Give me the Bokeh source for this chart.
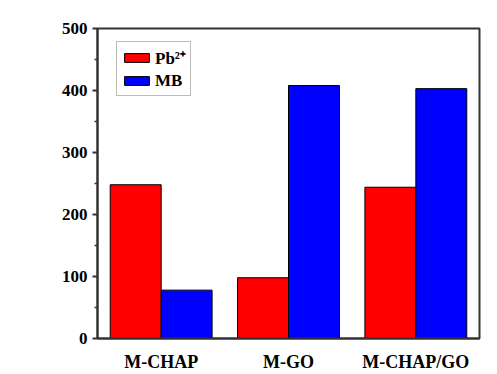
import math
from bokeh.plotting import figure
from bokeh.models import (ColumnDataSource, FactorRange, Range1d, Legend, LegendItem,
                          Label, FixedTicker)
from bokeh.transform import dodge
from bokeh.embed import file_html
from bokeh.resources import INLINE

categories = ["M-CHAP", "M-GO", "M-CHAP/GO"]
pb_values = [248, 98, 244]
mb_values = [78, 408, 403]
series_names = ["Pb\u00b2\u207a", "MB"]
y_ticks = [0, 100, 200, 300, 400, 500]

FONT = "Liberation Serif"
FRAME = "#333333"

source = ColumnDataSource(dict(cat=categories, pb=pb_values, mb=mb_values))

p = figure(width=497, height=374, output_backend="svg", toolbar_location=None,
           x_range=FactorRange(*categories, range_padding=0),
           y_range=Range1d(0, 500),
           min_border_left=97, min_border_right=18, min_border_top=28, min_border_bottom=36)

r1 = p.vbar(x=dodge("cat", -0.2, range=p.x_range), top="pb", width=0.4, source=source,
            fill_color="#FF0000", line_color="black", line_width=1)
r2 = p.vbar(x=dodge("cat", 0.2, range=p.x_range), top="mb", width=0.4, source=source,
            fill_color="#0000FF", line_color="black", line_width=1)

p.xgrid.grid_line_color = None
p.ygrid.grid_line_color = None
p.outline_line_color = FRAME
p.outline_line_width = 2
p.background_fill_color = "white"
p.border_fill_color = "white"

yax = p.yaxis[0]
yax.ticker = FixedTicker(ticks=y_ticks, minor_ticks=[50, 150, 250, 350, 450])
yax.major_tick_in = 0
yax.major_tick_out = 5
yax.minor_tick_in = 0
yax.minor_tick_out = 3
yax.major_tick_line_color = FRAME
yax.minor_tick_line_color = FRAME
yax.major_tick_line_width = 2
yax.minor_tick_line_width = 1.5
yax.axis_line_color = FRAME
yax.axis_line_width = 2
yax.major_label_text_font = FONT
yax.major_label_text_font_style = "bold"
yax.major_label_text_font_size = "17px"
yax.major_label_text_color = "black"
yax.major_label_standoff = 5

xax = p.xaxis[0]
xax.major_tick_in = 0
xax.major_tick_out = 0
xax.minor_tick_in = 0
xax.minor_tick_out = 0
xax.major_tick_line_color = None
xax.minor_tick_line_color = None
xax.axis_line_color = FRAME
xax.axis_line_width = 2
xax.major_label_text_font = FONT
xax.major_label_text_font_style = "bold"
xax.major_label_text_font_size = "18px"
xax.major_label_text_color = "black"
xax.major_label_standoff = 13

legend = Legend(items=[LegendItem(label=series_names[0], renderers=[r1]),
                       LegendItem(label=series_names[1], renderers=[r2])],
                location=(19, 242))
legend.label_text_font = FONT
legend.label_text_font_style = "bold"
legend.label_text_font_size = "17px"
legend.label_text_color = "black"
legend.glyph_width = 31
legend.glyph_height = 11
legend.label_height = 21
legend.label_standoff = 3
legend.spacing = 1
legend.padding = 4
legend.margin = 0
legend.border_line_color = "#777777"
legend.border_line_width = 1
legend.background_fill_alpha = 1
p.add_layout(legend, "center")

q_label = Label(x=27, y=206, x_units="canvas", y_units="canvas", text="q",
                angle=math.pi / 2, text_font=FONT, text_font_style="bold italic",
                text_font_size="30px", text_align="center", text_baseline="alphabetic",
                text_color="black")
e_label = Label(x=38, y=194, x_units="canvas", y_units="canvas", text="e",
                angle=math.pi / 2, text_font=FONT, text_font_style="bold italic",
                text_font_size="17px", text_align="center", text_baseline="alphabetic",
                text_color="black")
p.add_layout(q_label)
p.add_layout(e_label)

open("out.html", "w").write(file_html(p, INLINE))
